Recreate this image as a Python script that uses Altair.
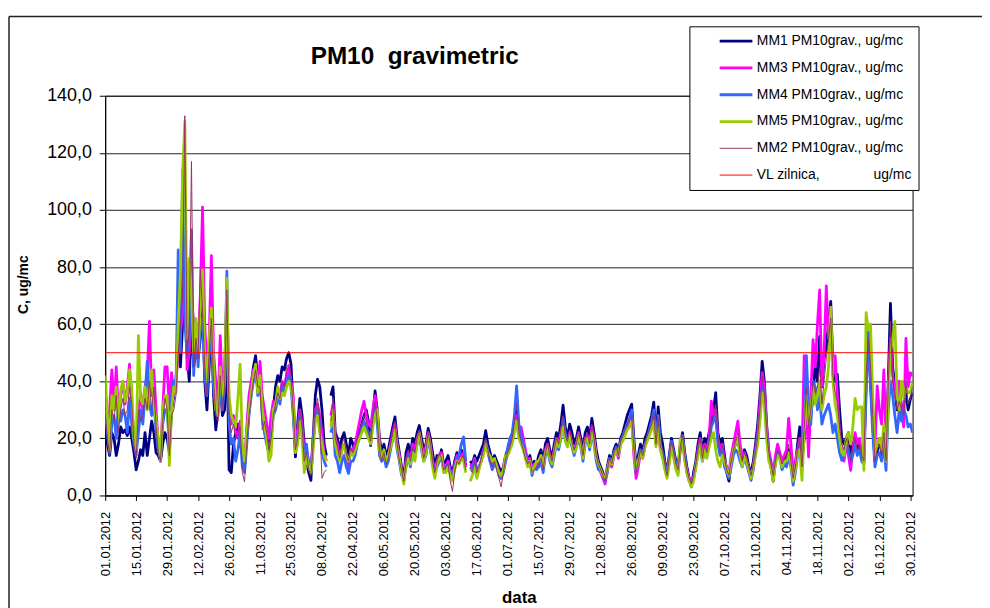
import altair as alt
import pandas as pd

N_DAYS = 366
days = list(range(N_DAYS))
tick_days = list(range(0, 365, 14))
y_ticks = [0, 20, 40, 60, 80, 100, 120, 140]
limit_value = 50

series_names = [
    "MM1 PM10grav., ug/mc",
    "MM3 PM10grav., ug/mc",
    "MM4 PM10grav., ug/mc",
    "MM5 PM10grav., ug/mc",
    "MM2 PM10grav., ug/mc",
    "VL zilnica," + "\u00a0" * 14 + "ug/mc",
]
colors = ["#000080", "#FF00FF", "#3366FF", "#99CC00", "#993366", "#FF0000"]
widths = [2.8, 2.8, 2.8, 2.8, 1, 1]

mm1 = (
    [27, 18, 14, 22, 20, 14, 18, 24, 22, 23, 21, 24, 20, 15]
    + [9, 12, 16, 14, 22, 14, 20, 26, 22, 15, 14, 12, 18, 22]
    + [20, 15, 30, 35, 40, 55, 45, 60, 85, 50, 40, 62, 45, 50]
    + [48, 55, 69, 40, 30, 45, 60, 35, 23, 30, 40, 28, 30, 55]
    + [9, 8, 18, 22, 25, 20, 14, 12, 20, 30, 38, 45, 49, 40]
    + [42, 30, 25, 21, 18, 25, 30, 38, 42, 40, 45, 44, 48, 50]
    + [46, 30, 13.5, 25, 34, 28, 18, 12, 8, 5.3, 20, 35, 40.7, 38]
    + [30, 18, 14, None, 35, 38, 22, 20, 16, 20, 22, 18, 14, 20]
    + [18, 15, 20, 22, 25, 28, 30, 26, 17.5, 28, 36.6, 30, 20, 15]
    + [18, 14, 16, 20, 24, 27.5, 20, 15, 10, 6, 15, 18, 14, 20]
    + [18, 22, 24.5, 20, 16, 18, 23.5, 20, 15, 10, 14, 12, 16, 11]
    + [12, 14, 10, 8, 12, 15, 13, 16, 14, 10.5, None, 12, 11, 14]
    + [12, 14, 16, 18, 22.7, 18, 15, 12, 14, 12, 10, 8, 10, 14]
    + [16, 18, 20, 25, 30, 24, 20, 18, 15, 12, 14, 10, 12, 11]
    + [14, 16, 12, 18, 20, 16, 13, 18, 22, 20, 25, 31.6, 24, 20]
    + [25, 22, 18, 20, 24, 20, 16, 22, 24, 20, 27, 22, 16, 12]
    + [10, 8, 5, 10, 14, 12, 16, 18, 15, 20, 22, 25, 28, 30]
    + [32, 20, 10, 14, 18, 15, 20, 22, 25, 28, 32.7, 20, 31, 22]
    + [18, 12, 8, 14, 20, 16, 12, 10, 18, 22, 15, 10, 6, 3]
    + [8, 12, 18, 22, 15, 20, 18, 22, 25, 30, 36, 22, 18, 20]
    + [14, 8, 5, 12, 16, 18, 20, 15, 12, 16, 14, 10, 8, 12]
    + [18, 25, 35, 47, 40, 25, 15, 10, 5, 12, 16, 14, 10, 12]
    + [14, 16, 12, 6, 10, 18, 24, 12, 20, 30, 20, 28, 35, 46.6]
    + [40, 55.7, 38, 48, 52, 60, 68, 45, 40, 42.4, 30, 20, 18, 20]
    + [22, 14, 18, 20, 16, 18, 14, 12, 45, 57, 40, 25, 12, 15]
    + [20, 15, 22, 14, 40, 67.3, 45, 38, 30, 35, 28, 32, 36, 30]
    + [33.7, 36]
)

mm3 = (
    [33, 25, 30, 44, 30, 45, 28, 35, 40, 32, 38, 46, 30, 22]
    + [20, 28, 36, 30, 38, 42, 61, 35, 44, 30, 18, 14, 30, 45]
    + [45, 30, 43, 35, 40, 50, 56, 65, 80, 44, 50, 70, 60, 55]
    + [52, 70, 101, 60, 45, 55, 84, 50, 40, 30, 56, 35, 45, 70]
    + [30, 25, 28, 22, 20, 26, 15, 10, 24, 35, 40, 44, 42, 38]
    + [47, 35, 30, 25, 20, 28, 33, 30, 36, 35, 40, 38, 42, 45]
    + [40, 35, 20, 22, 30, 25, 15, 16, 12, 10, 18, 30, 32, 28]
    + [22, 15, 12, None, 28, 32, 20, 18, 12, 16, 18, 14, 10, 16]
    + [16, 18, 22, 26, 30, 33, 28, 25, 24, 30, 35, 28, 18, 14]
    + [15, 12, 14, 18, 22, 25, 18, 14, 8, 5, 12, 15, 12, 18]
    + [16, 20, 22, 18, 14, 17, 22, 18, 12, 9, 12, 14, 15, 10]
    + [10, 12, 9, 7, 11, 14, 12, 14, 15, 10, None, 11, 10, 13]
    + [9, 10, 12, 16, 18, 15, 12, 10, 12, 11, 8, 6, 9, 12]
    + [15, 17, 19, 24, 28, 22, 24, 20, 16, 12, 13, 9, 11, 10]
    + [12, 14, 10, 16, 18, 14, 12, 16, 20, 18, 22, 26, 20, 18]
    + [22, 18, 15, 18, 22, 18, 14, 20, 21, 18, 24, 20, 14, 10]
    + [8, 6, 4, 9, 12, 10, 14, 16, 13, 18, 20, 22, 24, 26]
    + [28, 14, 6, 10, 15, 13, 17, 20, 22, 24, 28, 18, 25, 16]
    + [14, 10, 7, 12, 18, 14, 10, 8, 16, 20, 13, 9, 6, 5]
    + [6, 10, 16, 20, 14, 18, 16, 20, 33, 28, 30, 20, 16, 18]
    + [12, 10, 8, 14, 18, 22, 26, 18, 14, 15, 12, 9, 6, 10]
    + [16, 22, 32, 43, 38, 24, 16, 12, 8, 14, 18, 15, 12, 14]
    + [16, 27, 18, 8, 12, 16, 20, 15, 49, 30, 13.5, 35, 54.6, 45]
    + [60, 72, 38.4, 50, 73.4, 55, 60, 42, 49, 35, 22, 15, 12, 18]
    + [14, 8.8, 16, 22, 18, 20, 15, 14, 40, 55, 42, 30, 16, 38.4]
    + [30, 25, 44, 20, 38, 55, 42, 36, 34, 40, 30, 24, 55, 38]
    + [43, 42]
)

mm4 = (
    [30, 22, 15, 25, 28, 20, 32, 26, 30, 28, 22, 34, 25, 18]
    + [14, 22, 30, 25, 35, 47, 32, 28, 33, 22, 16, 13, 25, 30]
    + [30, 18, 35, 40, 38, 86, 50, 114, 60, 50, 55, 93, 42, 60]
    + [45, 60, 62, 42, 35, 50, 56, 38, 30, 28, 40, 30, 38, 78.6]
    + [25, 18, 20, 12, 16, 22, 10, 8, 18, 28, 35, 40, 45, 35]
    + [40, 28, 22, 18, 15, 20, 28, 30, 35, 32, 38, 36, 40, 42]
    + [38, 28, 18, 20, 28, 22, 14, 18, 10, 8, 20, 28, 30, 25]
    + [15, 12, 10, None, 22, 25, 14, 12, 8, 12, 14, 10, 7.7, 12]
    + [12, 14, 18, 20, 24, 26, 24, 22, 20, 26, 30, 25, 14, 12]
    + [14, 10, 12, 16, 20, 22, 16, 12, 7, 6, 10, 14, 10, 16]
    + [14, 18, 21, 16, 12, 14, 20, 16, 11, 8, 10, 12, 13, 9]
    + [9, 11, 8, 6, 10, 13, 14, 18, 20.5, 12, None, 10, 9, 12]
    + [7, 10, 12, 15, 19, 16, 12, 9, 11, 10, 7, 6, 8, 12]
    + [17, 20, 22, 28, 38.4, 25, 21, 18, 14, 11, 12, 7, 10, 9]
    + [10, 12, 8, 14, 16, 12, 10, 14, 18, 16, 20, 27, 22, 18]
    + [20, 17, 14, 17, 20, 17, 12, 18, 20, 16, 22, 18, 12, 9]
    + [9, 7, 5, 8, 13, 11, 15, 17, 14, 19, 21, 23, 25, 27]
    + [30, 18, 8, 12, 16, 14, 18, 20, 23, 26, 30, 19, 28, 18]
    + [15, 11, 8, 13, 19, 15, 11, 9, 17, 21, 14, 8, 5, 4]
    + [6, 11, 15, 18, 12, 16, 14, 18, 24, 26, 28, 18, 14, 16]
    + [10, 8, 6, 10, 14, 16, 15, 12, 10, 13, 11, 8, 5.3, 9]
    + [15, 20, 28, 38, 34, 22, 14, 10, 6, 12, 15, 13, 9, 11]
    + [10, 14, 10, 3.6, 8, 14, 18, 10, 25, 49, 30, 25, 40, 38]
    + [30, 35, 25, 28, 30, 32, 28, 22, 25, 20, 15, 12.3, 14, 18]
    + [16, 12, 14, 18, 14, 16, 12, 11, 35, 57, 38, 22, 10, 14]
    + [15, 12, 18, 8.8, 30, 40, 35, 28, 22, 30, 26, 30, 28, 24]
    + [25, 22]
)

mm5 = (
    [42, 28, 16, 35, 30, 38, 26, 37, 40, 33, 36, 44, 38, 20]
    + [16, 56, 34, 32, 38, 30, 36, 44, 32, 26, 20, 12, 30, 35]
    + [35, 10.5, 30, 38, 36, 60, 78, 113, 131, 55, 83, 70, 50, 62]
    + [50, 65, 79, 50, 40, 55, 65.6, 45, 30, 28, 45, 35, 40, 76]
    + [35, 28, 26, 24, 34, 46, 18, 12, 22, 30, 36, 42, 46, 36]
    + [42, 30, 25, 20, 12, 14, 30, 32, 38, 34, 36, 35, 38, 40]
    + [38, 32, 15, 18, 26, 20, 8, 14, 10, 8, 16, 26, 28, 22]
    + [18, 14, 12, None, 24, 30, 18, 15, 12, 16, 18, 14, 12, 15]
    + [14, 16, 18, 20, 22, 24, 22, 20, 18, 24, 28, 30, 16, 13]
    + [16, 12, 14, 17, 19, 23, 17, 13, 8, 4, 11, 13, 11, 15]
    + [12, 18, 22, 17, 12, 15, 21, 17, 10, 6, 11, 13, 14, 8]
    + [8, 10, 7, 5, 9, 12, 11, 13, 12, 8, None, 5, 7, 10]
    + [6, 9, 12, 14, 18, 15, 14, 12, 13, 10, 8, 7, 9, 14]
    + [14, 16, 18, 22, 26, 20, 18, 16, 13, 10, 12, 8, 10, 12]
    + [12, 14, 10, 15, 17, 13, 11, 15, 19, 17, 21, 24, 19, 17]
    + [21, 18, 15, 17, 21, 18, 13, 19, 20, 17, 22, 19, 13, 11]
    + [9, 7, 6, 9, 12, 11, 14, 16, 14, 18, 19, 21, 23, 24]
    + [26, 16, 9, 12, 15, 13, 17, 19, 21, 23, 26, 17, 24, 16]
    + [13, 9, 6, 11, 17, 13, 9, 7, 20, 19, 12, 8, 5, 3]
    + [5, 10, 14, 18, 12, 16, 13, 17, 20, 22, 16, 12, 10, 14]
    + [12, 9, 7, 12, 16, 18, 20, 14, 10, 14, 12, 9, 6, 10]
    + [14, 18, 26, 36, 32, 20, 12, 10, 5, 11, 14, 13, 10, 12]
    + [12, 15, 11, 5, 9, 15, 16, 5.3, 22, 35, 25, 30, 38, 32]
    + [35, 40, 30, 35, 38, 45, 66, 40, 32, 28, 20, 15, 14, 20]
    + [22, 18, 24, 34, 30, 31, 31, 8.8, 64, 58, 60, 35, 14, 18]
    + [20, 16, 25, 12, 35, 50, 55, 61, 35, 30, 40, 34, 38, 36]
    + [36, 40]
)

mm2 = (
    [28, 20, 14, 30, 26, 35, 22, 30, 34, 28, 30, 38, 32, 18]
    + [13, 30, 26, 28, 34, 30, 40, 30, 38, 24, 15, 12, 26, 34]
    + [30, 14, 28, 30, 35, 50, 60, 70, 133, 48, 60, 117, 45, 55]
    + [48, 79, 65, 45, 35, 50, 62, 40, 28, 26, 42, 30, 38, 72]
    + [28, 22, 25, 20, 22, 24, 8, 4.7, 18, 28, 34, 40, 44, 38]
    + [38, 23, 26, 22, 16, 20, 28, 32, 36, 34, 40, 38, 45, 46]
    + [42, 30, 16, 20, 30, 24, 12, 15, 9, 7, 18, 30, 34, 26]
    + [6, 8, 9, None, 26, 34, 20, 17, 13, 18, 20, 15, 12, 17]
    + [15, 17, 20, 22, 25, 28, 26, 22, 19, 27, 33, 26, 16, 12]
    + [15, 11, 13, 18, 22, 26, 18, 12, 9, 5, 12, 16, 12, 17]
    + [15, 20, 23, 18, 13, 16, 22, 18, 12, 8, 12, 15, 13, 9]
    + [10, 11, 5, 1.4, 8, 12, 11, 13, 14, 9, None, 9, 8, 12]
    + [8, 10, 13, 16, 20, 16, 12, 10, 12, 9, 6, 3, 8, 13]
    + [15, 17, 20, 26, 32, 22, 19, 16, 13, 11, 12, 8, 9, 10]
    + [11, 13, 9, 15, 18, 14, 12, 16, 20, 18, 23, 28, 21, 19]
    + [23, 19, 16, 18, 22, 19, 14, 20, 22, 18, 25, 20, 14, 11]
    + [9, 7, 5, 9, 13, 11, 15, 17, 14, 19, 21, 23, 25, 27]
    + [28, 17, 8, 12, 16, 14, 18, 21, 23, 25, 29, 18, 27, 17]
    + [16, 11, 7, 13, 19, 15, 11, 9, 17, 21, 14, 9, 6, 4]
    + [7, 11, 16, 20, 13, 18, 15, 19, 26, 28, 32, 20, 15, 18]
    + [13, 9, 7, 12, 16, 19, 22, 15, 12, 15, 13, 10, 7, 11]
    + [15, 21, 30, 42, 36, 23, 15, 11, 7, 12, 16, 14, 11, 13]
    + [13, 18, 12, 6, 10, 16, 20, 10, 24, 38, 24, 30, 40, 36]
    + [38, 45, 32, 40, 48, 55, 62, 42, 36, 33, 24, 18, 16, 20]
    + [18, 12, 16, 20, 16, 18, 14, 12, 42, 55, 45, 28, 12, 16]
    + [18, 14, 22, 12, 38, 61, 40, 35, 30, 33, 30, 28, 40, 32]
    + [34, 38]
)

all_series = [mm1, mm3, mm4, mm5, mm2]
for nm, s in zip(series_names, all_series):
    if len(s) != N_DAYS:
        raise ValueError(f"{nm}: {len(s)}")

rows = []
for name, vals in zip(series_names[:5], all_series):
    for d, v in zip(days, vals):
        rows.append({"day": d, "value": v, "series": name})
for d in [0, 365]:
    rows.append({"day": d, "value": limit_value, "series": series_names[5]})
df = pd.DataFrame(rows)

FONT = "Liberation Sans, Arial, sans-serif"

color_scale = alt.Scale(domain=series_names, range=colors)
width_scale = alt.Scale(type="ordinal", domain=series_names, range=widths)

legend = alt.Legend(
    title=None,
    orient="none",
    legendX=589,
    legendY=-70,
    symbolType="stroke",
    symbolSize=1089,
    symbolOffset=23,
    labelOffset=3,
    clipHeight=18,
    labelFontSize=14,
    labelFont=FONT,
    labelColor="black",
    labelLimit=400,
    padding=6,
    rowPadding=9,
    strokeColor="black",
    fillColor="white",
)

x_enc = alt.X(
    "day:Q",
    scale=alt.Scale(domain=[0, 365], nice=False, zero=False),
    axis=alt.Axis(
        values=tick_days,
        labelExpr="timeFormat(datetime(2012, 0, 1 + datum.value), '%d.%m.%Y')",
        labelAngle=270,
        labelAlign="right",
        labelBaseline="middle",
        labelFontSize=13,
        labelPadding=11,
        tickSize=5,
        grid=False,
        title="data",
        titleFontSize=17,
        titleFontWeight="bold",
        titleX=417,
        titleY=108,
        titleBaseline="alphabetic",
        titleAlign="center",
        labelOverlap=False,
    ),
)
y_enc = alt.Y(
    "value:Q",
    scale=alt.Scale(domain=[0, 140], nice=False),
    axis=alt.Axis(
        values=y_ticks,
        labelExpr="replace(format(datum.value, '.1f'), '.', ',')",
        labelFontSize=18,
        labelPadding=8,
        tickSize=6,
        grid=True,
        gridColor="#222222",
        gridWidth=1,
        title="C, ug/mc",
        titleFontSize=14,
        titleFontWeight="bold",
        titleX=-82,
        titleY=190,
        titleAngle=270,
        titleAlign="center",
        titleBaseline="middle",
    ),
)

layers = []
for name in series_names:
    layers.append(
        alt.Chart(df)
        .transform_filter(alt.datum.series == name)
        .mark_line(strokeJoin="round", clip=True)
        .encode(
            x=x_enc,
            y=y_enc,
            color=alt.Color("series:N", scale=color_scale, legend=legend),
            strokeWidth=alt.StrokeWidth("series:N", scale=width_scale, legend=legend),
        )
    )

one = pd.DataFrame({"k": [0]})
title_mark = alt.Chart(one).mark_text(
    font=FONT, fontSize=24.5, fontWeight="bold", color="black", align="center", baseline="alphabetic"
).encode(x=alt.value(312), y=alt.value(-32), text=alt.value("PM10\u00a0 gravimetric"))

border_left = alt.Chart(one).mark_rule(color="#222222", strokeWidth=1.5).encode(
    x=alt.value(-97), y=alt.value(-80), y2=alt.value(520)
)
border_top = alt.Chart(one).mark_rule(color="#222222", strokeWidth=1.5).encode(
    x=alt.value(-97), x2=alt.value(884), y=alt.value(-80)
)

chart = (
    alt.layer(border_left, border_top, *layers, title_mark)
    .properties(
        width=814,
        height=403,
        autosize=alt.AutoSizeParams(type="none"),
        padding={"left": 98, "top": 86, "right": 70, "bottom": 111},
        background="white",
    )
    .configure_view(stroke="black", strokeWidth=1)
    .configure_axis(
        domainColor="black",
        tickColor="black",
        labelColor="black",
        titleColor="black",
        labelFont=FONT,
        titleFont=FONT,
    )
)

chart.save("out.html", embed_options={"renderer": "svg", "actions": False})
